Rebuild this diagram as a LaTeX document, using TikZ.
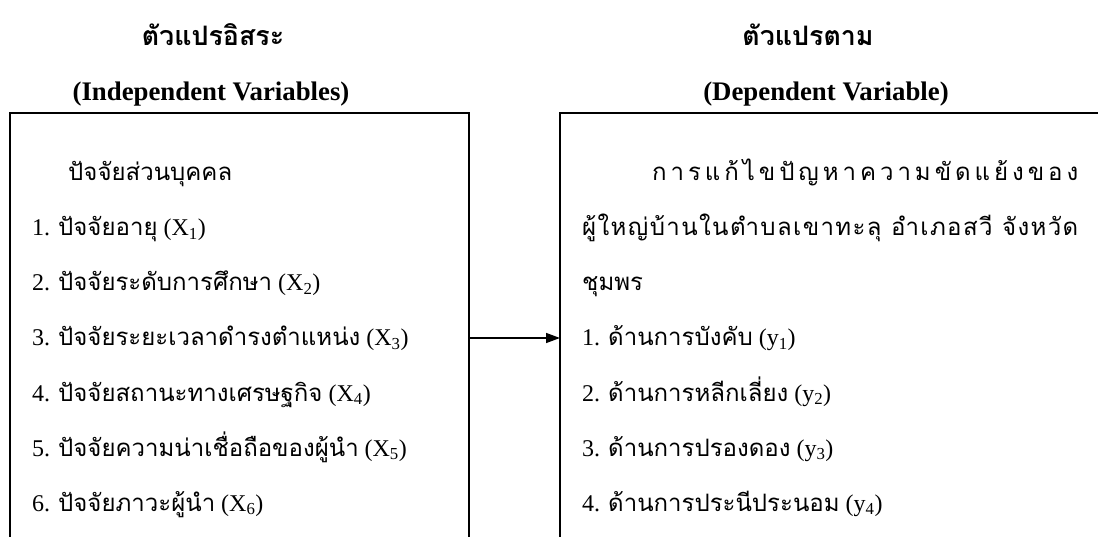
\documentclass[tikz,border=0pt]{standalone}
\usepackage{fontspec}
\setmainfont{Liberation Serif}
\newfontfamily\thaifont[Script=Thai]{Loma}
\newcommand\T[1]{{\thaifont #1}}
\usetikzlibrary{arrows.meta}
\begin{document}
\begin{tikzpicture}[x=1pt,y=-1pt,
  body/.style={anchor=base west,inner sep=0pt,font=\fontsize{24}{24}\selectfont},
  ttl/.style={anchor=base,inner sep=0pt,font=\fontsize{26.8}{27}\selectfont\bfseries},
  boxline/.style={line width=1.5pt},
  conn/.style={line width=1.4pt,-{Triangle[length=14pt,width=10pt]}}]
\useasboundingbox (0,0) rectangle (1098,537);
% titles
\node[ttl] (t1) at (213,46) {\T{ตัวแปรอิสระ}};
\node[ttl] (s1) at (211,101) {(Independent Variables)};
\node[ttl] (t2) at (808,46) {\T{ตัวแปรตาม}};
\node[ttl] (s2) at (826,101) {(Dependent Variable)};
% boxes (open at the bottom)
\coordinate (lnw) at (10,113);
\coordinate (lne) at (469,113);
\coordinate (lsw) at (10,540);
\coordinate (lse) at (469,540);
\coordinate (rnw) at (560,113);
\coordinate (rne) at (1110,113);
\coordinate (rsw) at (560,540);
\draw[boxline] (lsw) -- (lnw) -- (lne) -- (lse);
\draw[boxline] (rsw) -- (rnw) -- (rne);
% left box text
\node[body] (h1) at (68,181) {\T{ปัจจัยส่วนบุคคล}};
\node[body] (l1) at (32,236) {1. \T{ปัจจัยอายุ} (X\textsubscript{1})};
\node[body] (l2) at (32,291) {2. \T{ปัจจัยระดับการศึกษา} (X\textsubscript{2})};
\node[body] (l3) at (32,346) {3. \T{ปัจจัยระยะเวลาดำรงตำแหน่ง} (X\textsubscript{3})};
\node[body] (l4) at (32,401) {4. \T{ปัจจัยสถานะทางเศรษฐกิจ} (X\textsubscript{4})};
\node[body] (l5) at (32,456) {5. \T{ปัจจัยความน่าเชื่อถือของผู้นำ} (X\textsubscript{5})};
\node[body] (l6) at (32,511) {6. \T{ปัจจัยภาวะผู้นำ} (X\textsubscript{6})};
% right box text
\node[body] (h2) at (652,181) {\makebox[426pt][s]{\thaifont ก\hfill า\hfill ร\hfill แ\hfill ก้\hfill ไ\hfill ข\hfill ปั\hfill ญ\hfill ห\hfill า\hfill ค\hfill ว\hfill า\hfill ม\hfill ขั\hfill ด\hfill แ\hfill ย้\hfill ง\hfill ข\hfill อ\hfill ง}};
\node[body] (h2b) at (582,236) {\makebox[496pt][s]{\thaifont ผู้\hfil ใ\hfil ห\hfil ญ่\hfil บ้\hfil า\hfil น\hfil ใ\hfil น\hfil ตำ\hfil บ\hfil ล\hfil เ\hfil ข\hfil า\hfil ท\hfil ะ\hfil ลุ\hfil{} อำ\hfil เ\hfil ภ\hfil อ\hfil ส\hfil วี\hfil{} จั\hfil ง\hfil ห\hfil วั\hfil ด}};
\node[body] (h2c) at (582,291) {\T{ชุมพร}};
\node[body] (r1) at (582,346) {1. \T{ด้านการบังคับ} (y\textsubscript{1})};
\node[body] (r2) at (582,401) {2. \T{ด้านการหลีกเลี่ยง} (y\textsubscript{2})};
\node[body] (r3) at (582,456) {3. \T{ด้านการปรองดอง} (y\textsubscript{3})};
\node[body] (r4) at (582,511) {4. \T{ด้านการประนีประนอม} (y\textsubscript{4})};
% connector
\coordinate (ay) at (0,338);
\draw[conn] (lne |- ay) -- (rnw |- ay);
\end{tikzpicture}
\end{document}
